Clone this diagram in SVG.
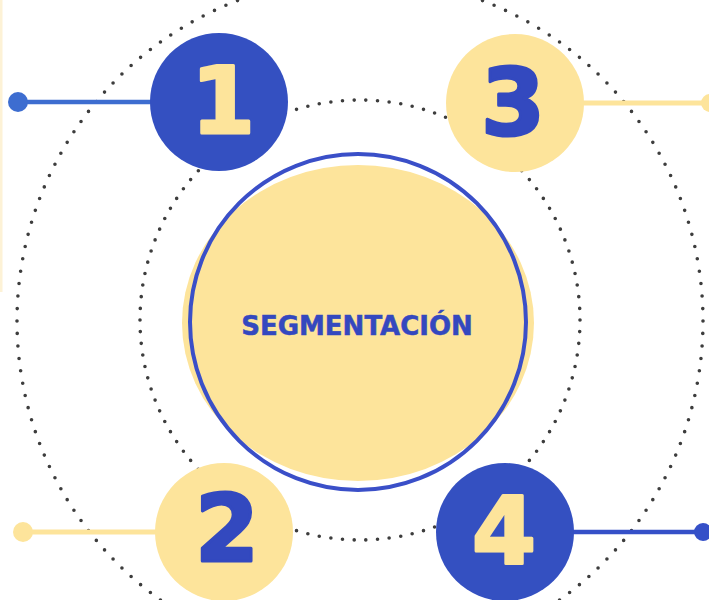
<svg xmlns="http://www.w3.org/2000/svg" width="709" height="600" viewBox="0 0 709 600">
  <style>
    .orbit { fill: none; stroke: #3d3d3d; stroke-width: 3.6; stroke-linecap: round; stroke-dasharray: 0 1; }
    .blue { fill: #3450c1; }
    .yellow { fill: #fde49b; }
    .num { font-family: "DejaVu Sans", Verdana, sans-serif; font-weight: bold; font-size: 92px; text-anchor: middle; stroke-width: 3; stroke-linejoin: round; }
    .num-y { fill: #fde49b; stroke: #fde49b; }
    .num-b { fill: #3349bf; stroke: #3349bf; }
    .title { font-family: "DejaVu Sans", Verdana, sans-serif; font-weight: bold; font-size: 26px; fill: #3448bf; stroke: #3448bf; stroke-width: 0.5; text-anchor: middle; }
  </style>
  <rect x="0" y="0" width="709" height="600" fill="#ffffff"/>
  <rect x="0" y="0" width="2.5" height="292" fill="#fdf2d6"/>

  <g id="orbits">
    <circle class="orbit" cx="360" cy="321" r="343" pathLength="172"/>
    <circle class="orbit" cx="360" cy="320" r="220" pathLength="118"/>
  </g>

  <g id="connectors">
    <line x1="18" y1="102" x2="160" y2="102" stroke="#3d6dd0" stroke-width="4.5"/>
    <circle cx="18" cy="102" r="10" fill="#3d6dd0"/>
    <line x1="575" y1="103" x2="709" y2="103" stroke="#fde49b" stroke-width="5"/>
    <circle cx="710" cy="103" r="9" fill="#fde49b"/>
    <line x1="23" y1="532" x2="165" y2="532" stroke="#fde49b" stroke-width="5"/>
    <circle cx="23" cy="532" r="10" fill="#fde49b"/>
    <line x1="565" y1="532" x2="702" y2="532" stroke="#3550c8" stroke-width="4.5"/>
    <circle cx="703" cy="532" r="9" fill="#3550c8"/>
  </g>

  <g id="center">
    <ellipse cx="358" cy="323" rx="176" ry="158" fill="#fde49b"/>
    <circle cx="358" cy="322" r="168" fill="none" stroke="#3a4fc8" stroke-width="4"/>
    <text class="title" x="357" y="335">SEGMENTACIÓN</text>
  </g>

  <g id="node-1">
    <circle class="blue" cx="219" cy="102" r="69"/>
    <text class="num num-y" x="223" y="133">1</text>
  </g>
  <g id="node-3">
    <circle class="yellow" cx="515" cy="103" r="69"/>
    <text class="num num-b" x="513" y="135">3</text>
  </g>
  <g id="node-2">
    <circle class="yellow" cx="224" cy="532" r="69"/>
    <text class="num num-b" x="227" y="561">2</text>
  </g>
  <g id="node-4">
    <circle class="blue" cx="505" cy="532" r="69"/>
    <text class="num num-y" x="504" y="563">4</text>
  </g>
</svg>
